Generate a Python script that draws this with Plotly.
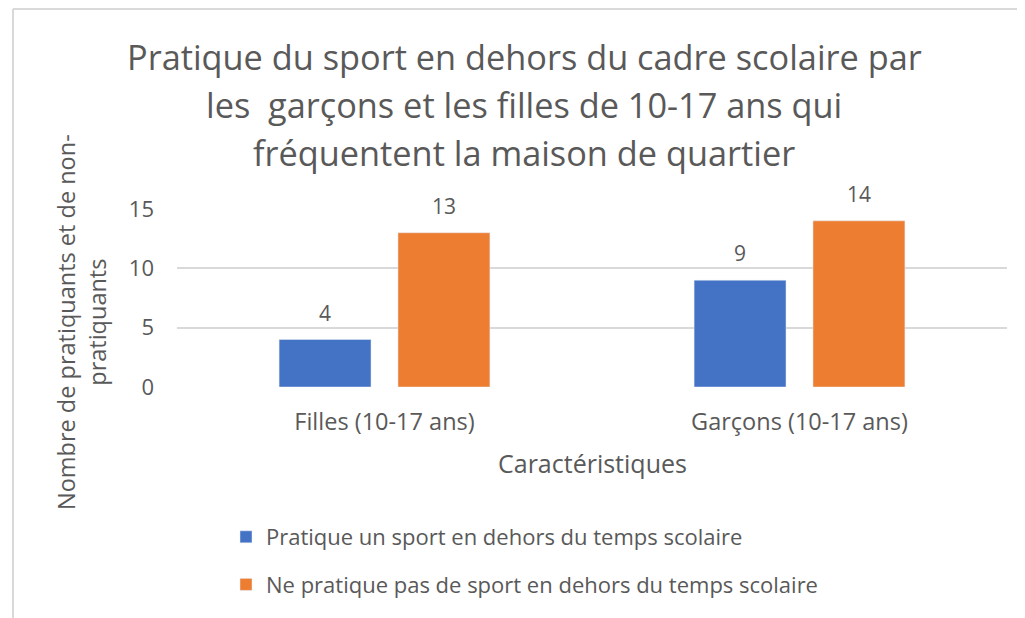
import plotly.graph_objects as go

categories = ["Filles (10-17 ans)", "Garçons (10-17 ans)"]
series_names = ["Pratique un sport en dehors du temps scolaire",
                "Ne pratique pas de sport en dehors du temps scolaire"]
pratique = [4, 9]
ne_pratique = [13, 14]
colors = ["#4472C4", "#ED7D31"]
title_lines = ["Pratique du sport en dehors du cadre scolaire par",
               "les  garçons et les filles de 10-17 ans qui",
               "fréquentent la maison de quartier"]
y_ticks = [0, 5, 10, 15]

FONT = "Open Sans"
GREY = "#595959"

# the page body has an 8px margin: figure coordinates = screen - 8
OFF = 8
W, H = 1025 - OFF, 618 - OFF
L, R, T, B = 177 - OFF, 18, 209 - OFF, 618 - 387
pw, ph = W - L - R, H - T - B

def px2x(sx):
    return (sx - OFF - L) / pw

def px2y(sy):
    return (H - B - (sy - OFF)) / ph

fig = go.Figure()
for i, (name, vals) in enumerate([(series_names[0], pratique), (series_names[1], ne_pratique)]):
    fig.add_trace(go.Bar(x=categories, y=vals, name=name, marker_color=colors[i],
                         legendgroup=str(i)))

annotations = []
for i, vals in enumerate([pratique, ne_pratique]):
    for c, v in zip(categories, vals):
        annotations.append(dict(x=c, y=v, text=str(v), showarrow=False,
                                xshift=(-59.5 if i == 0 else 59.5), yshift=27,
                                font=dict(family=FONT, size=21, color=GREY),
                                xref="x", yref="y"))
for line, sy in zip(title_lines, [57, 104, 152]):
    annotations.append(dict(x=px2x(524), y=px2y(sy), xref="paper", yref="paper",
                            text=line, showarrow=False, xanchor="center", yanchor="middle",
                            font=dict(family=FONT, size=34.3, color=GREY)))
annotations.append(dict(x=px2x(81), y=px2y(322), xref="paper", yref="paper",
                        text="Nombre de pratiquants et de non-<br>pratiquants",
                        textangle=-90, showarrow=False, xanchor="center", yanchor="middle",
                        font=dict(family=FONT, size=23.5, color=GREY)))
annotations.append(dict(x=0.5, y=px2y(463), xref="paper", yref="paper",
                        text="Caractéristiques", showarrow=False,
                        xanchor="center", yanchor="middle",
                        font=dict(family=FONT, size=25, color=GREY)))

shapes = [
    dict(type="line", xref="paper", yref="paper", x0=px2x(13), x1=px2x(1025),
         y0=px2y(9), y1=px2y(9), line=dict(color="#d9d9d9", width=2)),
    dict(type="line", xref="paper", yref="paper", x0=px2x(13), x1=px2x(13),
         y0=px2y(9), y1=px2y(618), line=dict(color="#d9d9d9", width=2)),
]

fig.update_layout(
    width=W, height=H,
    margin=dict(l=L, r=R, t=T, b=B, autoexpand=False),
    paper_bgcolor="white", plot_bgcolor="white",
    barmode="group", bargap=0.427, bargroupgap=0.227,
    font=dict(family=FONT, color=GREY, size=18),
    annotations=annotations, shapes=shapes,
    showlegend=True,
    legend=dict(x=px2x(226), y=px2y(516), xanchor="left", yanchor="top",
                traceorder="grouped", tracegroupgap=16,
                font=dict(family=FONT, size=22, color=GREY),
                bgcolor="rgba(0,0,0,0)", itemwidth=30),
    xaxis=dict(showgrid=False, showline=False, zeroline=False, ticks="",
               tickfont=dict(family=FONT, size=23.5, color=GREY), ticklabelstandoff=18),
    yaxis=dict(range=[0, 15], tickvals=y_ticks, showgrid=True, gridcolor="#d9d9d9",
               gridwidth=2, zeroline=False, showline=False, ticks="",
               tickfont=dict(family=FONT, size=22, color=GREY), ticklabelstandoff=22),
)

fig.write_html("out.html")
